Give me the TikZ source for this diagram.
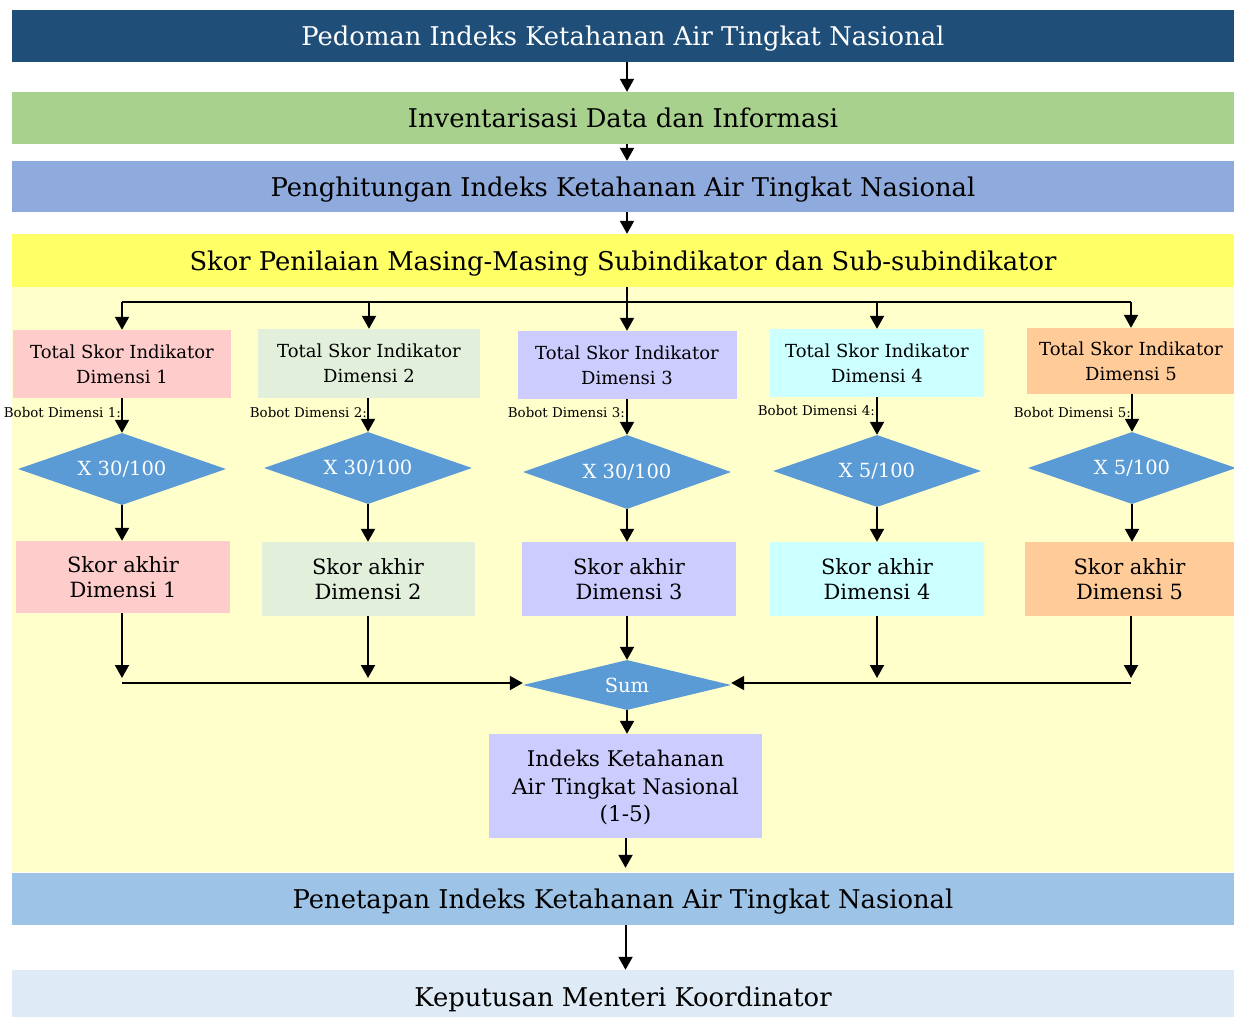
\documentclass[tikz,border=0pt]{standalone}
\usepackage{fontspec}
\setmainfont{DejaVu Serif}
\usetikzlibrary{arrows.meta,shapes.geometric}

\definecolor{cDark}{HTML}{1F4E79}
\definecolor{cGreen}{HTML}{A9D18E}
\definecolor{cPeri}{HTML}{8FAADC}
\definecolor{cHead}{HTML}{FFFF66}
\definecolor{cPale}{HTML}{FFFFCC}
\definecolor{cPink}{HTML}{FFCCCC}
\definecolor{cMint}{HTML}{E2EFDA}
\definecolor{cLav}{HTML}{CCCCFF}
\definecolor{cCyan}{HTML}{CCFFFF}
\definecolor{cPeach}{HTML}{FFCC99}
\definecolor{cDia}{HTML}{5B9BD5}
\definecolor{cSky}{HTML}{9DC3E6}
\definecolor{cIce}{HTML}{DEEBF7}

\newcommand{\fs}[1]{\fontsize{#1}{#1}\selectfont}

\tikzset{
  bar/.style={rectangle, inner sep=0pt, minimum width=1222, minimum height=52,
    text depth=0pt, font=\fs{25.8}},
  totbox/.style={rectangle, inner sep=0pt, align=center, font=\fs{18}\linespread{1.39}\selectfont},
  endbox/.style={rectangle, inner sep=0pt, align=center, font=\fs{21}\linespread{1.19}\selectfont},
  weight/.style={diamond, aspect=2.9, fill=cDia, inner sep=0pt, minimum width=208, minimum height=72,
    text=white, font=\fs{19.5}},
  bobot/.style={anchor=east, inner sep=0pt, font=\fs{13.4}},
  arr/.style={line width=2pt, -{Triangle[length=13pt,width=14pt]}},
  ln/.style={line width=2pt},
}

\begin{document}
\begin{tikzpicture}[x=1pt,y=-1pt]
\useasboundingbox (0,0) rectangle (1234,1017);

% pale background of the scoring section
\fill[cPale] (12,234) rectangle (1234,872);

% main stages
\node[bar, fill=cDark, text=white] (p1) at (623,36) {Pedoman Indeks Ketahanan Air Tingkat Nasional};
\node[bar, fill=cGreen] (p2) at (623,118) {Inventarisasi Data dan Informasi};
\node[bar, fill=cPeri, minimum height=51] (p3) at (623,186.5) {Penghitungan Indeks Ketahanan Air Tingkat Nasional};
\node[bar, fill=cHead, minimum height=53] (hdr) at (623,260.5) {Skor Penilaian Masing-Masing Subindikator dan Sub-subindikator};

% total score per dimension
\node[totbox, fill=cPink,  minimum width=218, minimum height=68] (t1) at (122,364) {Total Skor Indikator\\Dimensi 1};
\node[totbox, fill=cMint,  minimum width=222, minimum height=69] (t2) at (369,363.5) {Total Skor Indikator\\Dimensi 2};
\node[totbox, fill=cLav,   minimum width=219, minimum height=68] (t3) at (627,365) {Total Skor Indikator\\Dimensi 3};
\node[totbox, fill=cCyan,  minimum width=214, minimum height=68] (t4) at (877,363) {Total Skor Indikator\\Dimensi 4};
\node[totbox, fill=cPeach, minimum width=208, minimum height=66] (t5) at (1131,361) {Total Skor Indikator\\Dimensi 5};

% weighting
\node[weight] (w1) at (122,469) {X 30/100};
\node[weight] (w2) at (368,468) {X 30/100};
\node[weight, minimum height=74] (w3) at (627,472) {X 30/100};
\node[weight] (w4) at (877,471) {X 5/100};
\node[weight] (w5) at (1132,468) {X 5/100};

\node[bobot] (b1) at (121,412) {Bobot Dimensi 1:};
\node[bobot] (b2) at (367,412) {Bobot Dimensi 2:};
\node[bobot] (b3) at (625,412) {Bobot Dimensi 3:};
\node[bobot] (b4) at (875,410) {Bobot Dimensi 4:};
\node[bobot] (b5) at (1131,412) {Bobot Dimensi 5:};

% final score per dimension
\node[endbox, fill=cPink,  minimum width=214, minimum height=72] (s1) at (123,577) {Skor akhir\\Dimensi 1};
\node[endbox, fill=cMint,  minimum width=213, minimum height=74] (s2) at (368,579) {Skor akhir\\Dimensi 2};
\node[endbox, fill=cLav,   minimum width=214, minimum height=74] (s3) at (629,579) {Skor akhir\\Dimensi 3};
\node[endbox, fill=cCyan,  minimum width=214, minimum height=74] (s4) at (877,579) {Skor akhir\\Dimensi 4};
\node[endbox, fill=cPeach, minimum width=209, minimum height=74] (s5) at (1129.5,579) {Skor akhir\\Dimensi 5};

% aggregation
\node[weight, minimum height=50] (sum) at (627,685) {Sum};
\node[rectangle, fill=cLav, inner sep=0pt, minimum width=273, minimum height=104, align=center,
      text depth=0pt, font=\fs{21.6}\linespread{1.27}\selectfont] (idx) at (625.5,786)
      {Indeks Ketahanan\\Air Tingkat Nasional\\(1-5)};

\node[bar, fill=cSky] (p6) at (623,899) {Penetapan Indeks Ketahanan Air Tingkat Nasional};
\node[bar, fill=cIce, minimum height=54] (p7) at (623,997) {Keputusan Menteri Koordinator};

% connectors between stages
\draw[arr] (p1.south -| 627,0) -- (p2.north -| 627,0);
\draw[arr] (p2.south -| 627,0) -- (p3.north -| 627,0);
\draw[arr] (p3.south -| 627,0) -- (hdr.north -| 627,0);

% branching to the five dimensions
\coordinate (br) at (627,302);
\draw[arr] (hdr.south -| t3.north) -- (t3.north);
\draw[ln] (br -| t1.north) -- (br -| t5.north);
\foreach \i in {1,2,4,5} \draw[arr] (br -| t\i.north) -- (t\i.north);

% weighting chain
\foreach \i in {1,...,5} {
  \draw[arr] (t\i.south -| w\i.north) -- (w\i.north);
  \draw[arr] (w\i.south) -- (w\i.south |- s\i.north);
}

% collection into the sum
\coordinate (jl) at (122,683);
\coordinate (jr) at (1131,683);
\draw[arr] (s1.south -| jl) -- ([yshift=5]jl);
\draw[arr] (s2.south) -- ([yshift=5]s2.south |- jl);
\draw[arr] (jl) -- (jl -| sum.west);
\draw[arr] (s5.south -| jr) -- ([yshift=5]jr);
\draw[arr] (s4.south) -- ([yshift=5]s4.south |- jr);
\draw[arr] (jr) -- (jr -| sum.east);
\draw[arr] (s3.south -| sum.north) -- (sum.north);

\draw[arr] (sum.south) -- (idx.north -| sum.south);
\draw[arr] (idx.south) -- ([yshift=5]p6.north -| idx.south);
\draw[arr] (p6.south -| idx.south) -- (p7.north -| idx.south);
\end{tikzpicture}
\end{document}
